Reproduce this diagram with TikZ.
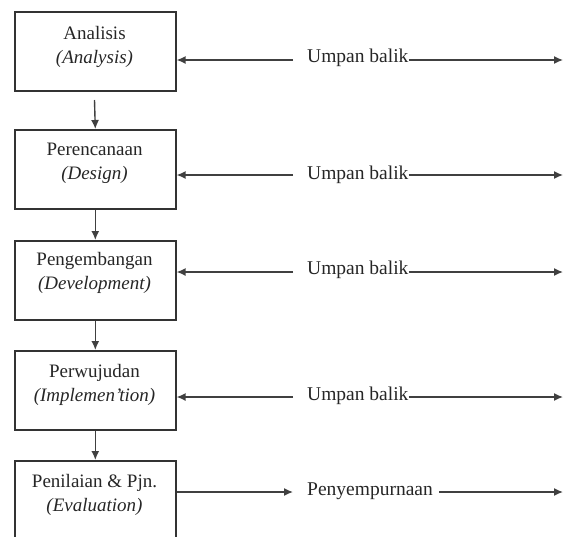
\documentclass[tikz,border=0pt]{standalone}
\usepackage{fontspec}
\setmainfont{Liberation Serif}
\usetikzlibrary{arrows.meta}
\begin{document}
\begin{tikzpicture}[x=1pt,y=-1pt,
  box/.style={draw=black!80,line width=1.6pt,minimum width=161pt,inner sep=0pt,anchor=north west},
  lbl/.style={align=center,font=\fontsize{19}{24}\selectfont,text=black!85,inner sep=0pt},
  fb/.style={font=\fontsize{19.5}{24}\selectfont,text=black!85,inner sep=0pt,anchor=west},
  arr/.style={draw=black!75,line width=1.4pt,-{Latex[length=9pt,width=8pt]}}]
\useasboundingbox (0,0) rectangle (565,536);
\clip (0,0) rectangle (565,536);
% boxes
\node[box,minimum height=79pt] (b1) at (14,11) {};
\node[box,minimum height=79pt] (b2) at (14,129) {};
\node[box,minimum height=79pt] (b3) at (14,240) {};
\node[box,minimum height=79pt] (b4) at (14,350) {};
\node[box,minimum height=110pt] (b5) at (14,460) {};
% texts
\node[lbl] (t1) at (94.5,47) {Analisis\\\textit{(Analysis)}};
\node[lbl] (t2) at (94.5,163) {Perencanaan\\\textit{(Design)}};
\node[lbl] (t3) at (94.5,273) {Pengembangan\\\textit{(Development)}};
\node[lbl] (t4) at (94.5,385) {Perwujudan\\\textit{(Implemen'tion)}};
\node[lbl] (t5) at (94.5,495) {Penilaian \& Pjn.\\\textit{(Evaluation)}};
% vertical arrows
\coordinate (d1) at (94.5,100);
\draw[arr] (d1) -- (b2.north);
\draw[arr] (b2.south) -- (b3.north);
\draw[arr] (b3.south) -- (b4.north);
\draw[arr] (b4.south) -- (b5.north);
% feedback
\node[fb] (u1) at (307,58) {Umpan balik};
\node[fb] (u2) at (307,175) {Umpan balik};
\node[fb] (u3) at (307,270) {Umpan balik};
\node[fb] (u4) at (307,396) {Umpan balik};
\node[fb] (p5) at (307,491) {Penyempurnaan};
\foreach \i/\y in {1/60,2/175,3/272,4/397}{
  \coordinate (s\i) at (293,\y);
  \coordinate (e\i) at (563,\y);
  \draw[arr] (s\i) -- (b\i.east |- s\i);
  \draw[arr] (u\i.east |- s\i) -- (e\i);
}
\coordinate (s5) at (293,492);
\coordinate (e5) at (563,492);
\draw[arr] (b5.east |- s5) -- (s5);
\draw[arr] ([xshift=6pt]p5.east |- s5) -- (e5);
\end{tikzpicture}
\end{document}
